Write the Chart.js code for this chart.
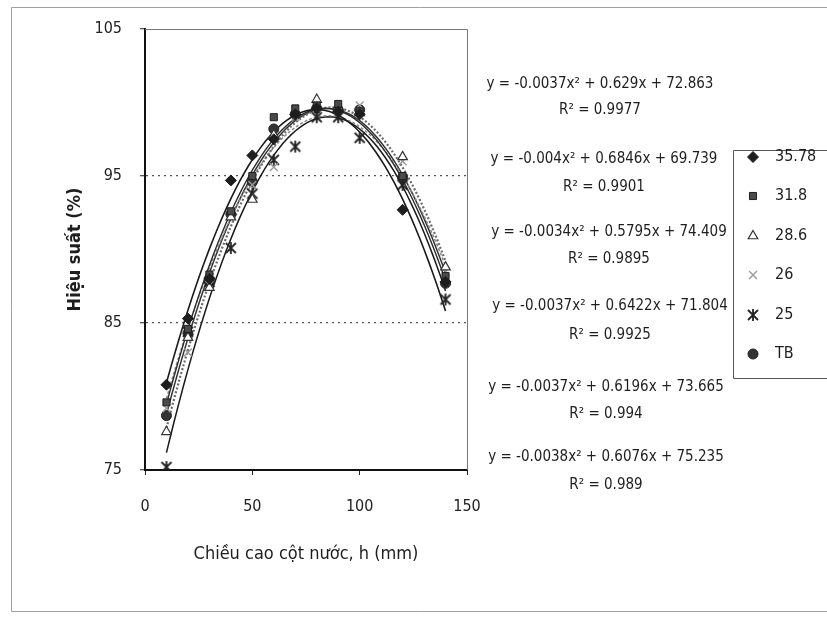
<!DOCTYPE html>
<html><head><meta charset="utf-8">
<script src="https://cdn.jsdelivr.net/npm/chart.js@4.4.1/dist/chart.umd.min.js"></script>
<style>html,body{margin:0;padding:0;background:#fff;}#wrap{width:827px;height:617px;position:relative;}</style>
</head><body><div id="wrap"><canvas id="c" width="827" height="617"></canvas></div>
<script>
// ---- data ----
const heights = [10, 20, 30, 40, 50, 60, 70, 80, 90, 100, 120, 140];
const seriesNames = ['35.78', '31.8', '28.6', '26', '25', 'TB'];
const eff3578 = [80.8, 85.3, 88.0, 94.7, 96.4, 97.5, 99.2, 99.6, 99.4, 99.2, 92.7, 87.8];
const eff318  = [79.6, 84.6, 88.3, 92.6, 95.0, 99.0, 99.6, 99.8, 99.9, 99.4, 95.0, 88.2];
const eff286  = [77.6, 84.0, 87.4, 92.2, 93.4, 97.8, 99.4, 100.2, 99.7, 99.3, 96.3, 88.8];
const eff26   = [79.2, 83.0, 87.6, 92.4, 94.4, 95.6, 99.0, 99.6, 99.5, 99.8, 96.0, 88.5];
const eff25   = [75.2, 84.4, 87.8, 90.1, 93.8, 96.1, 97.0, 99.0, 99.0, 97.6, 94.4, 86.6];
const effTB   = [78.7, 84.3, 87.8, 92.4, 94.6, 98.2, 99.2, 99.6, 99.5, 99.5, 94.9, 87.7];
// printed trendline coefficients (a x^2 + b x + c), in series order
const trendA = [-0.0038, -0.0037, -0.0037, -0.0034, -0.004, -0.0037];
const trendB = [0.6076, 0.6196, 0.6422, 0.5795, 0.6846, 0.629];
const trendC = [75.235, 73.665, 71.804, 74.409, 69.739, 72.863];
// printed labels (top to bottom as in the picture)
const eqLabels = [
  'y = -0.0037x² + 0.629x + 72.863',
  'y = -0.004x² + 0.6846x + 69.739',
  'y = -0.0034x² + 0.5795x + 74.409',
  'y = -0.0037x² + 0.6422x + 71.804',
  'y = -0.0037x² + 0.6196x + 73.665',
  'y = -0.0038x² + 0.6076x + 75.235'
];
const r2Labels = ['R² = 0.9977', 'R² = 0.9901', 'R² = 0.9895', 'R² = 0.9925', 'R² = 0.994', 'R² = 0.989'];
const xTickValues = [0, 50, 100, 150];
const yTickValues = [75, 85, 95, 105];
const xTitle = 'Chiều cao cột nước, h (mm)';
const yTitle = 'Hiệu suất (%)';

const allSeries = [eff3578, eff318, eff286, eff26, eff25, effTB];
const FONT = '"Liberation Sans Narrow", "DejaVu Sans Condensed", "Liberation Sans", sans-serif';

// Excel-like star marker (x with vertical bar)
function starMarker(color) {
  const c = document.createElement('canvas'); c.width = 14; c.height = 14;
  const g = c.getContext('2d'); g.strokeStyle = color; g.lineWidth = 1.8;
  g.beginPath();
  g.moveTo(2, 2); g.lineTo(12, 12); g.moveTo(12, 2); g.lineTo(2, 12);
  g.moveTo(7, 1); g.lineTo(7, 13);
  g.stroke();
  return c;
}
const markerStyles = [
  {pointStyle: 'rectRot', radius: 5.5, bg: '#1e1e1e', border: '#1e1e1e', bw: 1},
  {pointStyle: 'rect', radius: 5, bg: '#4a4a4a', border: '#1e1e1e', bw: 1},
  {pointStyle: 'triangle', radius: 5.5, bg: '#ffffff', border: '#333333', bw: 1.2},
  {pointStyle: 'crossRot', radius: 5.5, bg: '#9a9a9a', border: '#9a9a9a', bw: 1.4},
  {pointStyle: starMarker('#222'), radius: 7, bg: '#222', border: '#222', bw: 1.5},
  {pointStyle: 'circle', radius: 5, bg: '#333333', border: '#222222', bw: 1}
];
const lineStyles = [
  {color: '#1a1a1a', width: 1.6, dash: []},
  {color: '#2a2a2a', width: 1.4, dash: []},
  {color: '#6a6a6a', width: 2.2, dash: [2, 2]},
  {color: '#8a8a8a', width: 1.5, dash: [3, 2]},
  {color: '#1a1a1a', width: 1.5, dash: []},
  {color: '#333333', width: 1.5, dash: []}
];

const datasets = [];
allSeries.forEach((vals, i) => {
  const m = markerStyles[i];
  datasets.push({
    type: 'scatter', label: seriesNames[i], order: 0,
    data: heights.map((h, k) => ({x: h, y: vals[k]})),
    pointStyle: m.pointStyle, pointRadius: m.radius,
    backgroundColor: m.bg, borderColor: m.border, pointBorderWidth: m.bw,
    showLine: false
  });
});
allSeries.forEach((vals, i) => {
  const pts = [];
  for (let h = heights[0]; h <= heights[heights.length - 1]; h += 2) {
    pts.push({x: h, y: trendA[i] * h * h + trendB[i] * h + trendC[i]});
  }
  const ls = lineStyles[i];
  datasets.push({
    type: 'line', label: 'Poly. (' + seriesNames[i] + ')', order: 1,
    data: pts, borderColor: ls.color, borderWidth: ls.width, borderDash: ls.dash,
    pointRadius: 0, tension: 0, fill: false
  });
});

const overlay = {
  id: 'overlay',
  afterDraw(chart) {
    const ctx = chart.ctx; const a = chart.chartArea;
    ctx.save();
    // outer frame
    ctx.strokeStyle = '#a0a0a0'; ctx.lineWidth = 1;
    ctx.beginPath(); ctx.moveTo(835, 7.5); ctx.lineTo(11.5, 7.5); ctx.lineTo(11.5, 611.5); ctx.lineTo(835, 611.5); ctx.stroke();
    // plot area top & right
    ctx.strokeStyle = '#777'; ctx.lineWidth = 1;
    ctx.beginPath(); ctx.moveTo(a.left, a.top + 0.5); ctx.lineTo(a.right + 0.5, a.top + 0.5); ctx.lineTo(a.right + 0.5, a.bottom); ctx.stroke();
    // trendline equations
    const eqX = [600, 604, 609, 610, 606, 606];
    const eqY = [84, 159, 232, 306, 387, 457];
    const rY = [110, 187, 259, 335, 414, 485];
    ctx.fillStyle = '#1e1e1e'; ctx.textAlign = 'center'; ctx.textBaseline = 'middle';
    ctx.font = '15px ' + FONT;
    eqLabels.forEach((t, i) => {
      ctx.fillText(t, eqX[i], eqY[i]);
      ctx.fillText(r2Labels[i], eqX[i], rY[i]);
    });
    // legend box
    ctx.fillStyle = '#ffffff';
    ctx.fillRect(733, 150, 100, 228);
    ctx.strokeStyle = '#555'; ctx.lineWidth = 1;
    ctx.beginPath(); ctx.moveTo(835, 150.5); ctx.lineTo(733.5, 150.5); ctx.lineTo(733.5, 378.5); ctx.lineTo(835, 378.5); ctx.stroke();
    const legY = [157, 196, 236, 275, 315, 354];
    seriesNames.forEach((n, i) => {
      const m = markerStyles[i];
      ctx.fillStyle = m.bg; ctx.strokeStyle = m.border; ctx.lineWidth = m.bw;
      Chart.helpers.drawPoint(ctx, {pointStyle: m.pointStyle, radius: m.radius, rotation: 0, borderWidth: m.bw}, 753, legY[i]);
      ctx.fillStyle = '#1e1e1e'; ctx.textAlign = 'left'; ctx.textBaseline = 'middle';
      ctx.font = '16px ' + FONT;
      ctx.fillText(n, 775, legY[i]);
    });
    ctx.restore();
  }
};

new Chart(document.getElementById('c'), {
  data: {datasets},
  options: {
    responsive: false, animation: false, devicePixelRatio: 1,
    layout: {padding: {left: 65, right: 360, top: 29, bottom: 50}},
    plugins: {legend: {display: false}, tooltip: {enabled: false}},
    scales: {
      x: {
        type: 'linear', min: 0, max: 150,
        afterFit: s => { s.height = 97; },
        afterBuildTicks: s => { s.ticks = xTickValues.map(v => ({value: v})); },
        ticks: {color: '#222', font: {size: 16, family: FONT}, padding: 22},
        grid: {drawOnChartArea: false, drawTicks: true, tickLength: 5, tickColor: '#222'},
        border: {color: '#111', width: 2},
        title: {display: true, text: xTitle, color: '#1e1e1e', font: {size: 18, family: FONT}, padding: {top: 0, bottom: 2}}
      },
      y: {
        type: 'linear', min: 75, max: 105,
        afterFit: s => { s.width = 80; },
        afterBuildTicks: s => { s.ticks = yTickValues.map(v => ({value: v})); },
        ticks: {color: '#222', font: {size: 16, family: FONT}, padding: 18},
        grid: {
          color: c => (c.tick && (c.tick.value === 85 || c.tick.value === 95)) ? '#555' : 'rgba(0,0,0,0)',
          lineWidth: 1.3, drawTicks: true, tickLength: 5, tickColor: '#555'
        },
        border: {color: '#111', width: 2, dash: [2, 4]},
        title: {display: true, text: yTitle, color: '#1e1e1e', font: {size: 18, weight: 'bold', family: FONT}, padding: {top: 0, bottom: 0}}
      }
    }
  },
  plugins: [overlay]
});
</script></body></html>
